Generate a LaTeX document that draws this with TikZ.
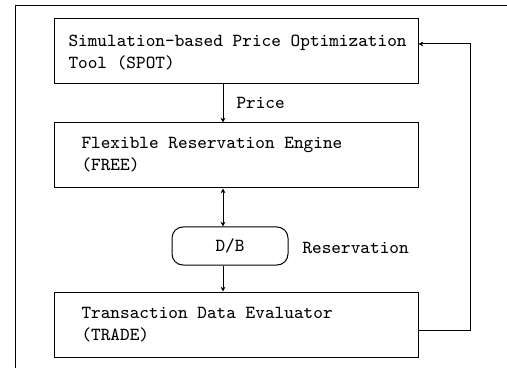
\documentclass[tikz,border=0pt]{standalone}
\usetikzlibrary{arrows.meta}
\begin{document}
\begin{tikzpicture}[x=0.5pt,y=-0.5pt,
  line width=0.5pt,
  labelfont/.style={font=\ttfamily\fontsize{9.2}{11}\selectfont},
  box/.style={draw, rectangle, inner sep=0pt, minimum width=182pt, minimum height=32.5pt},
  store/.style={draw, rectangle, rounded corners=5.5pt, inner sep=0pt, minimum width=58pt, minimum height=19pt, labelfont},
  txt/.style={inner sep=0pt, align=left, anchor=west, labelfont},
  flow/.style={-{Stealth[length=2.4pt,width=2.4pt]}},
  both/.style={{Stealth[length=2.4pt,width=2.4pt]}-{Stealth[length=2.4pt,width=2.4pt]}}]
\useasboundingbox (0,0) rectangle (507,368);

% frame edges
\draw (15,368) -- (15,6) -- (507,6);

% components
\node[box] (spot) at (236,51) {};
\node[box] (free) at (236,155.5) {};
\node[box] (trade) at (236,324.5) {};
\node[store] (db) at (230,246) {D/B};

\node[txt] (spottxt) at (68,52.5) {Simulation-based Price Optimization\\Tool (SPOT)};
\node[txt] (freetxt) at (81,155) {Flexible Reservation Engine\\(FREE)};
\node[txt] (tradetxt) at (81,324.5) {Transaction Data Evaluator\\(TRADE)};

% connectors along the common axis
\coordinate (axis) at (223,0);
\draw[flow] (spot.south -| axis) -- (free.north -| axis);
\draw[both] (free.south -| axis) -- (db.north -| axis);
\draw[flow] (db.south -| axis) -- (trade.north -| axis);

\node[txt] (price) at (236,103) {Price};
\node[txt] (resv) at (302,248) {Reservation};

% feedback loop
\coordinate (loop) at (470,0);
\draw[flow] (trade.east |- 0,330) -| (loop |- 0,44) -- (spot.east |- 0,44);
\end{tikzpicture}
\end{document}
